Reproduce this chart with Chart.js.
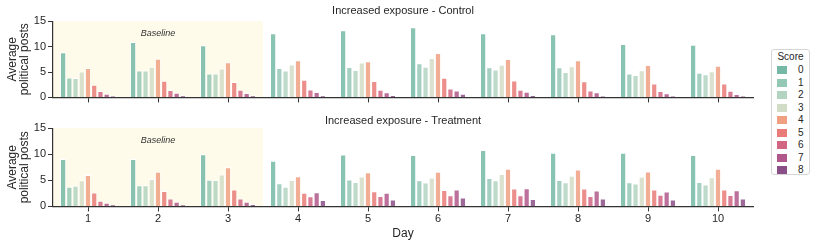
<!DOCTYPE html>
<html>
<head>
<meta charset="utf-8">
<script src="https://cdn.jsdelivr.net/npm/chart.js@4.4.0/dist/chart.umd.min.js"></script>
<style>
  body { margin: 0; background: #fff; font-family: "Liberation Sans", Arial, sans-serif; }
  #topChart { position: absolute; left: 0; top: 0; }
  #bottomChart { position: absolute; left: 0; top: 110px; }
  #legend {
    position: absolute; left: 771px; top: 49px; width: 39px; height: 126px;
    border: 1px solid #d6d6d6; border-radius: 3px; box-sizing: border-box;
    font-size: 10px; color: #262626;
  }
  #legend .ttl { position: absolute; left: 0; width: 37px; top: 1px; text-align: center; line-height: 12px; }
  #legend .sw { position: absolute; left: 5px; width: 10px; height: 8px; }
  #legend .lb { position: absolute; left: 26px; line-height: 12px; }
</style>
</head>
<body>
<canvas id="topChart" width="760" height="106"></canvas>
<canvas id="bottomChart" width="760" height="131"></canvas>
<div id="legend"></div>

<script>
// days on the x axis and the score levels (one bar each)
const days = ['1', '2', '3', '4', '5', '6', '7', '8', '9', '10'];
const scores = ['0', '1', '2', '3', '4', '5', '6', '7', '8'];
const yTicks = [0, 5, 10, 15];
const baselineDays = 3;

// average political posts, one row per day, one value per score
const controlValues = [
  [8.9, 3.9, 3.8, 5.1, 5.8, 2.5, 1.25, 0.7, 0.3],
  [10.9, 5.3, 5.3, 6.05, 7.6, 3.3, 1.45, 0.9, 0.4],
  [10.25, 4.7, 4.7, 5.7, 6.9, 3.05, 1.5, 0.85, 0.4],
  [12.65, 5.8, 5.3, 6.5, 7.3, 3.45, 1.55, 1.05, 0.4],
  [13.2, 6.0, 5.4, 6.85, 7.1, 3.25, 1.5, 1.0, 0.45],
  [13.8, 6.7, 6.05, 7.75, 8.75, 3.85, 1.75, 1.35, 0.7],
  [12.65, 5.95, 5.5, 6.45, 7.55, 3.35, 1.5, 1.1, 0.45],
  [12.45, 5.95, 5.0, 6.15, 7.3, 3.2, 1.35, 1.0, 0.3],
  [10.5, 4.7, 4.4, 5.35, 6.4, 2.75, 1.25, 0.8, 0.3],
  [10.35, 4.85, 4.55, 5.15, 6.25, 2.75, 1.3, 0.65, 0.3]
];
const treatmentValues = [
  [9.1, 3.75, 3.95, 5.0, 6.0, 2.65, 1.1, 0.7, 0.3],
  [9.1, 4.05, 4.05, 5.25, 6.65, 2.95, 1.5, 0.9, 0.3],
  [10.0, 5.1, 5.05, 6.1, 7.5, 3.25, 1.5, 0.9, 0.4],
  [8.75, 4.45, 3.75, 5.05, 5.8, 2.6, 1.95, 2.7, 1.25],
  [9.95, 5.15, 4.7, 5.75, 6.55, 2.9, 2.0, 2.6, 1.3],
  [9.85, 5.0, 4.6, 5.55, 6.65, 3.15, 2.15, 3.25, 1.7],
  [10.8, 5.45, 5.0, 6.2, 7.2, 3.45, 2.15, 3.5, 1.4],
  [10.3, 5.05, 4.65, 5.9, 7.1, 3.45, 2.0, 3.05, 1.5],
  [10.3, 4.65, 4.4, 5.7, 6.7, 3.25, 2.25, 2.85, 1.3],
  [9.85, 4.7, 4.2, 5.6, 7.2, 3.25, 2.2, 3.1, 1.5]
];

const scoreColors = ['#74b8a5', '#95c7b5', '#b2d4c1', '#d3dcc6', '#eea081',
                     '#e97b78', '#d16582', '#b0588b', '#8b4f87'];
const textColor = '#262626';
const fontFamily = '"Liberation Sans", Arial, sans-serif';

function hexAlpha(hex, a) {
  const n = parseInt(hex.slice(1), 16);
  return 'rgba(' + (n >> 16) + ',' + ((n >> 8) & 255) + ',' + (n & 255) + ',' + a + ')';
}

// shaded "Baseline" block behind the first days
const baselinePlugin = {
  id: 'baseline',
  beforeDraw(chart) {
    const { ctx, chartArea, scales: { x } } = chart;
    const half = (x.getPixelForValue(1) - x.getPixelForValue(0)) / 2;
    const x0 = x.getPixelForValue(0) - half;
    const x1 = x.getPixelForValue(baselineDays - 1) + half;
    ctx.save();
    ctx.fillStyle = '#fffbea';
    ctx.fillRect(x0, chartArea.top, x1 - x0, chartArea.bottom - chartArea.top);
    ctx.fillStyle = '#333';
    ctx.font = 'italic 9px ' + fontFamily;
    ctx.textAlign = 'center';
    ctx.textBaseline = 'middle';
    ctx.fillText('Baseline', (x0 + x1) / 2, chartArea.top + 12);
    ctx.restore();
  }
};

function makeChart(id, title, values, showX, titlePadBottom) {
  const datasets = scores.map((s, si) => ({
    label: s,
    data: values.map(row => row[si]),
    backgroundColor: hexAlpha(scoreColors[si], 0.85),
    borderColor: '#ffffff',
    borderWidth: 1,
    categoryPercentage: 0.8,
    barPercentage: 1.0
  }));

  return new Chart(document.getElementById(id), {
    type: 'bar',
    data: { labels: days, datasets: datasets },
    plugins: [baselinePlugin],
    options: {
      responsive: false,
      animation: false,
      layout: { padding: { left: 0, right: 7, top: 0, bottom: 0 } },
      plugins: {
        legend: { display: false },
        tooltip: { enabled: false },
        title: {
          display: true,
          fullSize: false,   // center over the plot area, not the canvas
          text: title,
          color: textColor,
          font: { family: fontFamily, size: 11, weight: 'normal' },
          padding: { top: 4, bottom: titlePadBottom }
        }
      },
      scales: {
        x: {
          grid: { display: true, drawOnChartArea: false, drawTicks: true, tickLength: 5,
                  color: '#333', offset: false },
          border: { display: true, color: '#333', width: 1.2 },
          ticks: { display: showX, color: textColor, padding: 1,
                   font: { family: fontFamily, size: 11 } },
          title: { display: showX, text: 'Day', color: textColor, padding: { top: 0, bottom: 0 },
                   font: { family: fontFamily, size: 12 } },
          afterFit(scale) { if (!showX) scale.height = 5; }
        },
        y: {
          min: 0, max: 15,
          afterBuildTicks(scale) { scale.ticks = yTicks.map(v => ({ value: v })); },
          grid: { display: true, drawOnChartArea: false, drawTicks: true, tickLength: 5, color: '#333' },
          border: { display: true, color: '#333', width: 1.2 },
          ticks: { color: textColor, padding: 2, font: { family: fontFamily, size: 11 } },
          title: { display: true, text: ['Average', 'political posts'], color: textColor,
                   padding: { top: 6, bottom: 0 },
                   font: { family: fontFamily, size: 12, lineHeight: 1.05 } },
          afterFit(scale) { scale.width = 53; }
        }
      }
    }
  });
}

makeChart('topChart', 'Increased exposure - Control', controlValues, false, 4);
makeChart('bottomChart', 'Increased exposure - Treatment', treatmentValues, true, 1);

// shared legend
const legend = document.getElementById('legend');
let html = '<div class="ttl">Score</div>';
scores.forEach((s, i) => {
  const cy = 20 + i * 12.55;
  html += '<span class="sw" style="top:' + (cy - 4) + 'px;background:' + scoreColors[i] + '"></span>' +
          '<span class="lb" style="top:' + (cy - 6) + 'px">' + s + '</span>';
});
legend.innerHTML = html;
</script>
</body>
</html>
